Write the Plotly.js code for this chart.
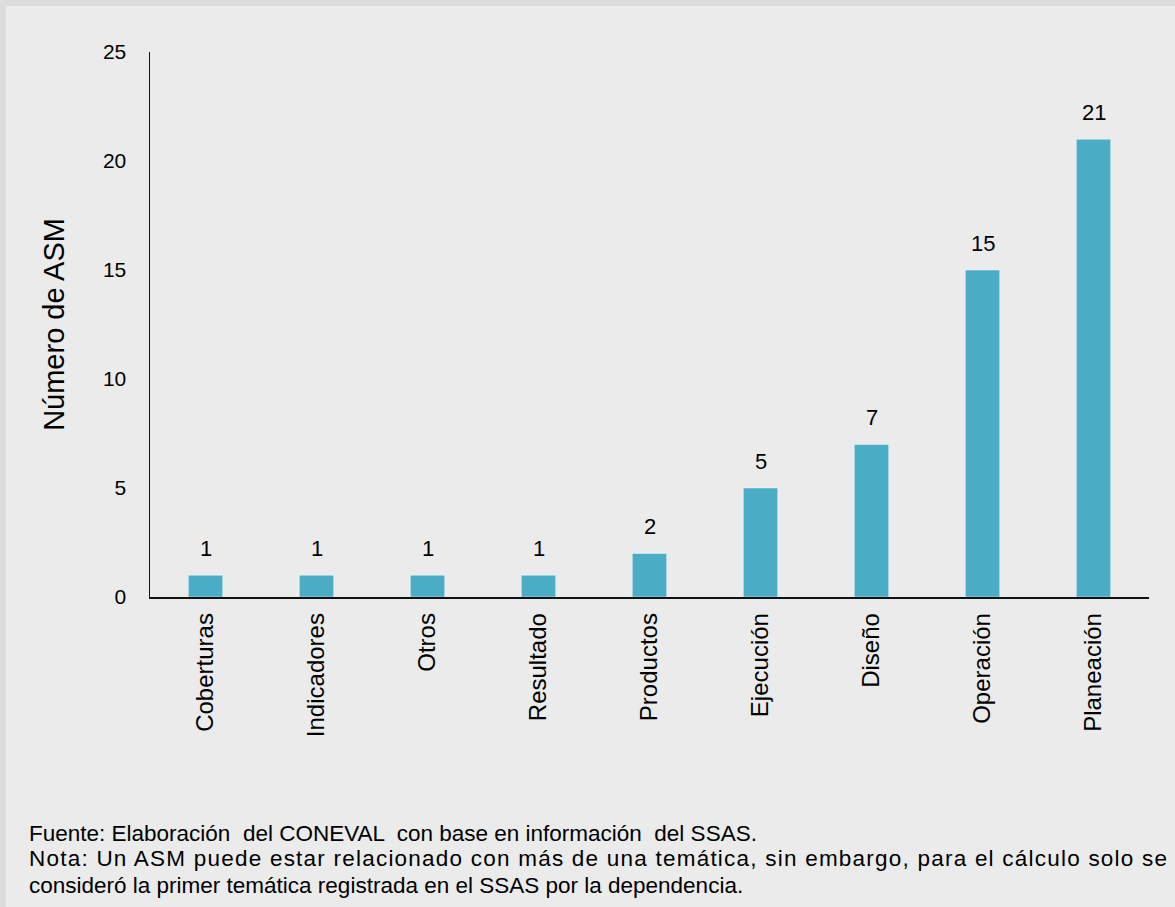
<!DOCTYPE html>
<html>
<head>
<meta charset="utf-8">
<script src="https://cdn.plot.ly/plotly-3.0.1.min.js"></script>
<style>
  html, body { margin: 0; padding: 0; background: #dcdcdc; }
  #chart { position: absolute; left: 6px; top: 6px; width: 1169px; height: 901px; }
</style>
</head>
<body>
<div id="chart"></div>
<script>
const categories = ["Coberturas", "Indicadores", "Otros", "Resultado", "Productos", "Ejecución", "Diseño", "Operación", "Planeación"];
const values = [1, 1, 1, 1, 2, 5, 7, 15, 21];
const yTicks = [0, 5, 10, 15, 20, 25];
const yTitle = "Número de ASM";
const footnoteLines = [
  "Fuente: Elaboración  del CONEVAL  con base en información  del SSAS.",
  "Nota: Un ASM puede estar relacionado con más de una temática, sin embargo, para el cálculo solo se",
  "consideró la primer temática registrada en el SSAS por la dependencia."
];

const font = "Liberation Sans, Arial, sans-serif";

const trace = {
  type: "bar",
  x: categories,
  y: values,
  marker: { color: "#4bacc6", line: { color: "rgba(255,255,255,0.45)", width: 1 } },
  hoverinfo: "x+y"
};

const annotations = categories.map((c, i) => ({
  x: c, y: values[i], xref: "x", yref: "y",
  text: String(values[i]), showarrow: false,
  yanchor: "bottom", yshift: 12,
  font: { family: font, size: 22, color: "#000" }
}));

const plotL = 144, plotR = 1143.5, plotW = plotR - plotL;
const plotT = 46, plotB = 591, plotH = plotB - plotT;
const footY = [827, 852.5, 879];
footnoteLines.forEach((line, i) => {
  annotations.push({
    xref: "paper", yref: "paper",
    x: (21 - plotL) / plotW, xanchor: "left",
    y: (plotB - footY[i]) / plotH, yanchor: "middle",
    align: "left", showarrow: false,
    text: line,
    font: { family: font, size: 22.5, color: "#000" }
  });
});

const layout = {
  width: 1169, height: 901,
  paper_bgcolor: "#ebebeb",
  plot_bgcolor: "#ebebeb",
  margin: { l: plotL, r: 1169 - plotR, t: plotT, b: 901 - plotB, pad: 0 },
  bargap: 0.69,
  showlegend: false,
  font: { family: font, color: "#000" },
  xaxis: {
    type: "category",
    showline: true, linecolor: "#111", linewidth: 1.5,
    showgrid: false, zeroline: false,
    ticks: "", tickangle: -90,
    ticklabelstandoff: 5,
    tickfont: { family: font, size: 24, color: "#000" },
    automargin: false
  },
  yaxis: {
    range: [0, 25],
    tickvals: yTicks,
    showline: true, linecolor: "#111", linewidth: 1.5,
    showgrid: false, zeroline: false,
    ticks: "",
    ticklabelstandoff: 18,
    tickfont: { family: font, size: 21, color: "#000" },
    title: { text: yTitle, standoff: 30, font: { family: font, size: 29, color: "#000" } },
    automargin: false
  },
  annotations: annotations
};

Plotly.newPlot("chart", [trace], layout, { displayModeBar: false, staticPlot: true }).then(gd => {
  // Stretch the justified second footnote line across the full width, as in the reference.
  const idx = categories.length + 1;
  const el = gd.querySelector('.annotation[data-index="' + idx + '"] text.annotation-text');
  if (el) {
    const bb = el.getBBox();
    el.setAttribute("text-anchor", "start");
    el.setAttribute("x", bb.x);
    el.setAttribute("textLength", 1165 - 27);
    el.setAttribute("lengthAdjust", "spacing");
  }
});
</script>
</body>
</html>
